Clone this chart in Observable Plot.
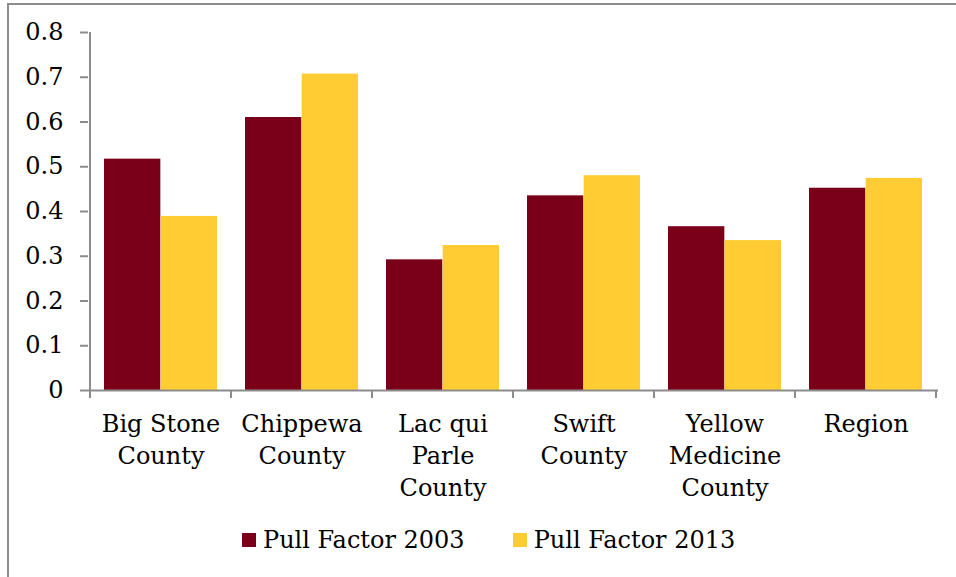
<!DOCTYPE html>
<html>
<head>
<meta charset="utf-8">
<script src="https://cdn.jsdelivr.net/npm/d3@7"></script>
<script src="https://cdn.jsdelivr.net/npm/@observablehq/plot@0.6"></script>
<style>
  html, body { margin: 0; padding: 0; background: #fff; }
  #wrap { position: relative; width: 956px; height: 577px; overflow: hidden; font-family: "DejaVu Serif", serif; }
  #border { position: absolute; left: 7px; top: 3px; width: 960px; height: 600px; border-top: 2px solid #8c8c8c; border-left: 2px solid #8c8c8c; box-sizing: border-box; }
  #chart { position: absolute; left: 0; top: 0; }
  #legend { position: absolute; left: 242px; top: 526px; display: flex; gap: 48px; font-size: 24px; color: #000; }
  .item { display: flex; align-items: center; gap: 7px; }
  .sw { width: 14px; height: 14px; display: inline-block; }
</style>
</head>
<body>
<div id="wrap">
  <div id="border"></div>
  <div id="chart"></div>
  <div id="legend"></div>
</div>
<script>
// Retail pull factors by county, 2003 vs 2013
const counties = ["Big Stone\nCounty", "Chippewa\nCounty", "Lac qui\nParle\nCounty", "Swift\nCounty", "Yellow\nMedicine\nCounty", "Region"];
const series = ["Pull Factor 2003", "Pull Factor 2013"];
const pull2003 = [0.517, 0.610, 0.292, 0.435, 0.366, 0.452];
const pull2013 = [0.389, 0.707, 0.324, 0.480, 0.335, 0.474];
const yTicks = [0, 0.1, 0.2, 0.3, 0.4, 0.5, 0.6, 0.7, 0.8];
const yTickLabels = ["0", "0.1", "0.2", "0.3", "0.4", "0.5", "0.6", "0.7", "0.8"];
const colors = ["#7a001a", "#ffcc33"];

const rows2003 = counties.map((c, i) => ({county: c, series: series[0], value: pull2003[i]}));
const rows2013 = counties.map((c, i) => ({county: c, series: series[1], value: pull2013[i]}));

const W = 956, H = 515;
const mL = 88, mR = 18, mT = 32, mB = H - 390;
const step = (W - mL - mR) / counties.length;
const half = step * 0.8 / 2; // each bar fills half of the group band

const axisGray = "#8c8c8c";

const plot = Plot.plot({
  width: W,
  height: H,
  marginLeft: mL,
  marginRight: mR,
  marginTop: mT,
  marginBottom: mB,
  style: {fontFamily: "DejaVu Serif, serif", fontSize: "24px", color: "#000", background: "transparent"},
  x: {domain: counties, paddingInner: 0.2, paddingOuter: 0.1, axis: null},
  y: {domain: [0, 0.8], axis: null},
  marks: [
    Plot.barY(rows2003, {x: "county", y: "value", fill: colors[0], insetLeft: 0, insetRight: half}),
    Plot.barY(rows2013, {x: "county", y: "value", fill: colors[1], insetLeft: half, insetRight: 0}),
    Plot.ruleY([0], {stroke: axisGray, strokeWidth: 2}),
    Plot.axisY(yTicks, {
      label: null, tickSize: 8, tickPadding: 17, stroke: axisGray, strokeWidth: 2,
      tickFormat: (d) => yTickLabels[yTicks.indexOf(d)], fill: "#000", fontSize: 24
    }),
    Plot.axisX({
      label: null, tickSize: 0, tickPadding: 19, lineHeight: 1.33, fill: "#000", fontSize: 24
    })
  ]
});
document.getElementById("chart").appendChild(plot);

// Left axis line and category boundary ticks, placed from the scales
const xs = plot.scale("x");
const ys = plot.scale("y");
const svg = d3.select(plot);
const y0 = ys.apply(0), yTop = ys.apply(0.8);
const gap = (xs.step - xs.bandwidth) / 2;
const bounds = counties.map((c) => xs.apply(c) - gap).concat([xs.apply(counties[counties.length - 1]) + xs.bandwidth + gap]);
const g = svg.append("g").attr("stroke", axisGray).attr("stroke-width", 2);
g.append("line").attr("x1", bounds[0]).attr("x2", bounds[0]).attr("y1", yTop).attr("y2", y0 + 1);
g.selectAll(".b").data(bounds).join("line")
  .attr("x1", (d) => d).attr("x2", (d) => d).attr("y1", y0).attr("y2", y0 + 8);

// Legend
const legend = d3.select("#legend");
series.forEach((s, i) => {
  const item = legend.append("div").attr("class", "item");
  item.append("span").attr("class", "sw").style("background", colors[i]);
  item.append("span").text(s);
});
</script>
</body>
</html>
